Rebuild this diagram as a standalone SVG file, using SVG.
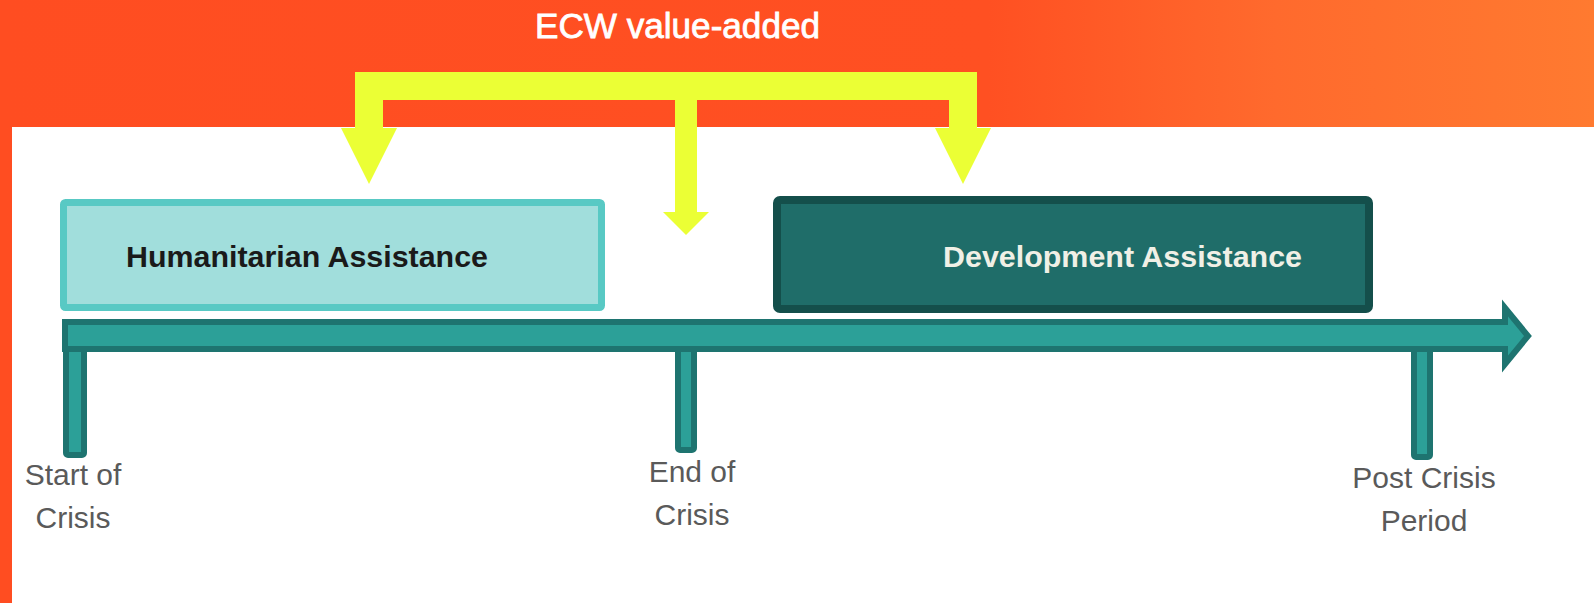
<svg xmlns="http://www.w3.org/2000/svg" width="1594" height="603" viewBox="0 0 1594 603">
  <defs>
    <linearGradient id="bg" x1="0" y1="0" x2="1" y2="0">
      <stop offset="0" stop-color="#FF4D21"/>
      <stop offset="0.62" stop-color="#FF5022"/>
      <stop offset="0.8" stop-color="#FF6A2D"/>
      <stop offset="1" stop-color="#FF7A30"/>
    </linearGradient>
    <style>
      .lbl{font-family:"Liberation Sans",Arial,sans-serif;font-size:30px;fill:#5A5A5A;text-anchor:middle}
      .box-t{font-family:"Liberation Sans",Arial,sans-serif;font-size:30px;font-weight:bold}
      .tick{fill:#2CA098;stroke:#1E7470;stroke-width:6}
      .yel{fill:#EBFF35}
    </style>
  </defs>

  <g id="background">
    <rect x="0" y="0" width="1594" height="603" fill="url(#bg)"/>
    <rect x="12" y="127" width="1582" height="476" fill="#FFFFFF"/>
  </g>

  <g id="title">
    <text x="535" y="38" font-family="'Liberation Sans',Arial,sans-serif" font-size="35" fill="#FFFFFF" stroke="#FFFFFF" stroke-width="0.8" textLength="285" lengthAdjust="spacingAndGlyphs">ECW value-added</text>
  </g>

  <g id="connectors">
    <path class="yel" d="M355,72 H977 V128 H991 L963,184 L935,128 H949 V100 H697 V212 H709 L686,235 L663,212 H675 V100 H383 V128 H397 L369,184 L341,128 H355 Z"/>
  </g>

  <g id="humanitarian">
    <rect x="63.5" y="202.5" width="538" height="105" rx="2" fill="#A1DEDC" stroke="#58C9C4" stroke-width="7"/>
    <text class="box-t" x="126" y="267" fill="#1A1A1A" textLength="362" lengthAdjust="spacingAndGlyphs">Humanitarian Assistance</text>
  </g>

  <g id="development">
    <rect x="777" y="200" width="592" height="109" rx="3" fill="#1F6D69" stroke="#144F4B" stroke-width="8"/>
    <text class="box-t" x="943" y="267" fill="#F0F0E6" textLength="359" lengthAdjust="spacingAndGlyphs">Development Assistance</text>
  </g>

  <g id="tick-start">
    <rect class="tick" x="66" y="345" width="18" height="110" rx="2"/>
    <text class="lbl" x="73" y="485">Start of</text>
    <text class="lbl" x="73" y="528">Crisis</text>
  </g>

  <g id="tick-end">
    <rect class="tick" x="678" y="345" width="16" height="105" rx="2"/>
    <text class="lbl" x="692" y="482">End of</text>
    <text class="lbl" x="692" y="525">Crisis</text>
  </g>

  <g id="tick-post">
    <rect class="tick" x="1414" y="345" width="16" height="112" rx="2"/>
    <text class="lbl" x="1424" y="488">Post Crisis</text>
    <text class="lbl" x="1424" y="531">Period</text>
  </g>

  <g id="timeline">
    <path d="M65,322 H1505 V308 L1528,336 L1505,364 V349 H65 Z" fill="#2CA098" stroke="#1E7470" stroke-width="6" stroke-linejoin="miter"/>
  </g>
</svg>
